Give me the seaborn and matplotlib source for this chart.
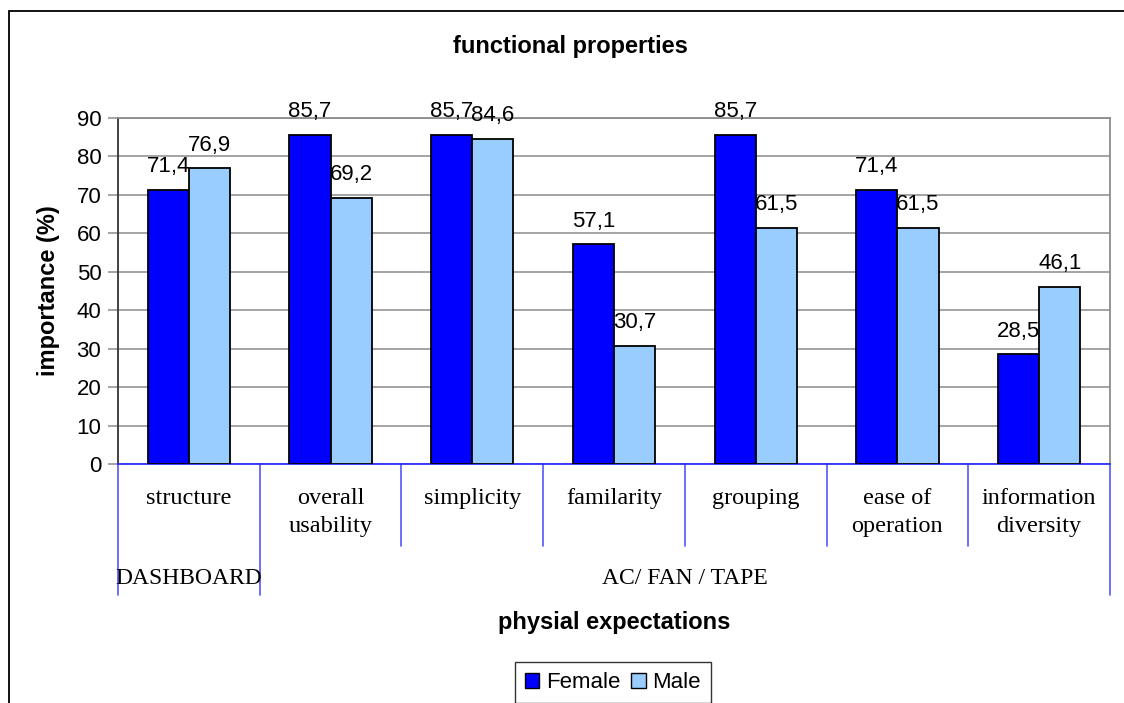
import matplotlib
matplotlib.use("Agg")
import matplotlib.pyplot as plt
from matplotlib.patches import Rectangle
import seaborn as sns
import pandas as pd

# ---- data ----
categories = ["structure", "overall\nusability", "simplicity", "familarity",
              "grouping", "ease of\noperation", "information\ndiversity"]
female = [71.4, 85.7, 85.7, 57.1, 85.7, 71.4, 28.5]
male = [76.9, 69.2, 84.6, 30.7, 61.5, 61.5, 46.1]
series = ["Female", "Male"]
groups = ["DASHBOARD", "AC/ FAN / TAPE"]
group_sizes = [1, 6]
yticks = [0, 10, 20, 30, 40, 50, 60, 70, 80, 90]

df = pd.DataFrame({
    "category": categories * 2,
    "value": female + male,
    "gender": [series[0]] * len(categories) + [series[1]] * len(categories),
})

sns.set_theme(style="white")
plt.rcParams["font.family"] = ["Liberation Sans", "DejaVu Sans"]
plt.rcParams["text.color"] = "black"
plt.rcParams["axes.labelcolor"] = "black"
plt.rcParams["xtick.color"] = "black"
plt.rcParams["ytick.color"] = "black"

W, H = 1124, 703
fig = plt.figure(figsize=(W / 100, H / 100), dpi=100)
L, R, T, B = 118, 1110, 118, 464
ax = fig.add_axes([L / W, 1 - B / H, (R - L) / W, (B - T) / H])

sns.barplot(data=df, x="category", y="value", hue="gender",
            palette=["#0000FF", "#99CCFF"], width=0.58,
            edgecolor="black", linewidth=1.3, saturation=1,
            ax=ax, legend=True, zorder=3)

handles, labels = ax.get_legend_handles_labels()
ax.get_legend().remove()

ax.set_xlim(-0.5, len(categories) - 0.5)
ax.set_ylim(0, 90)
ax.set_yticks(yticks)
ax.set_yticklabels([str(t) for t in yticks], fontsize=16, color="black")
ax.yaxis.grid(True, color="#8c8c8c", lw=1.1, zorder=0)
ax.set_axisbelow(True)
ax.tick_params(axis="y", length=7, width=1.1, color="#8c8c8c", pad=5,
               left=True, labelcolor="black")

ax.set_xticks(range(len(categories)))
ax.set_xticklabels(categories, fontfamily="Liberation Serif", fontsize=17.5,
                   linespacing=1.45, color="black")
ax.tick_params(axis="x", length=0, pad=17)
ax.set_xlabel("")

# spines
for s in ["top", "right"]:
    ax.spines[s].set_color("#8c8c8c")
    ax.spines[s].set_linewidth(1.3)
ax.spines["left"].set_color("#333333")
ax.spines["left"].set_linewidth(1.3)
ax.spines["bottom"].set_color("#3030FF")
ax.spines["bottom"].set_linewidth(1.3)

# value labels
for cont, vals in zip(ax.containers, [female, male]):
    ax.bar_label(cont, labels=[f"{v:.1f}".replace(".", ",") for v in vals],
                 padding=9, fontsize=16, color="black")

# category separators & group labels
xt = ax.get_xaxis_transform()
axh = B - T
inner_depth = -(546 - B) / axh
outer_depth = -(595 - B) / axh
boundaries = [-0.5]
for g in group_sizes:
    boundaries.append(boundaries[-1] + g)
for i in range(1, len(categories)):
    xb = i - 0.5
    depth = outer_depth if xb in boundaries else inner_depth
    ax.plot([xb, xb], [0, depth], transform=xt, color="#5555FF", lw=1.2,
            clip_on=False)
for xb in [boundaries[0], boundaries[-1]]:
    ax.plot([xb, xb], [0, outer_depth], transform=xt, color="#5555FF", lw=1.2,
            clip_on=False)
for gname, g0, g1 in zip(groups, boundaries[:-1], boundaries[1:]):
    ax.text((g0 + g1) / 2, -(579 - B) / axh, gname, transform=xt,
            ha="center", va="center", fontsize=17,
            fontfamily="Liberation Serif", color="black")

# axis titles
ax.text(0.5, -(622 - B) / axh, "physial expectations", transform=ax.transAxes,
        ha="center", va="center", fontsize=17, fontweight="bold")
ax.set_ylabel("importance (%)", fontsize=17, fontweight="bold")
ax.yaxis.label.set_va("center")
ax.yaxis.set_label_coords(-(L - 49) / (R - L), 0.5)

fig.text(570 / W, 1 - 47 / H, "functional properties", ha="center",
         va="center", fontsize=17, fontweight="bold")

# legend
leg = fig.legend(handles, labels, loc="upper center",
                 bbox_to_anchor=(613 / W, 1 - 662 / H), ncol=2, fontsize=16,
                 frameon=True, fancybox=False, edgecolor="black",
                 handlelength=0.65, handleheight=0.65, handletextpad=0.3,
                 columnspacing=0.5, borderpad=0.45, borderaxespad=0)
leg.get_frame().set_linewidth(1.0)
for h in leg.legend_handles:
    h.set_edgecolor("black")
    h.set_linewidth(1.0)

# figure border
fig.patches.append(Rectangle((9 / W, -0.05), 1.2, (1 - 11 / H) + 0.05,
                             transform=fig.transFigure, fill=False,
                             edgecolor="black", lw=1.3))

fig.savefig("out.png", dpi=100, facecolor="white")
